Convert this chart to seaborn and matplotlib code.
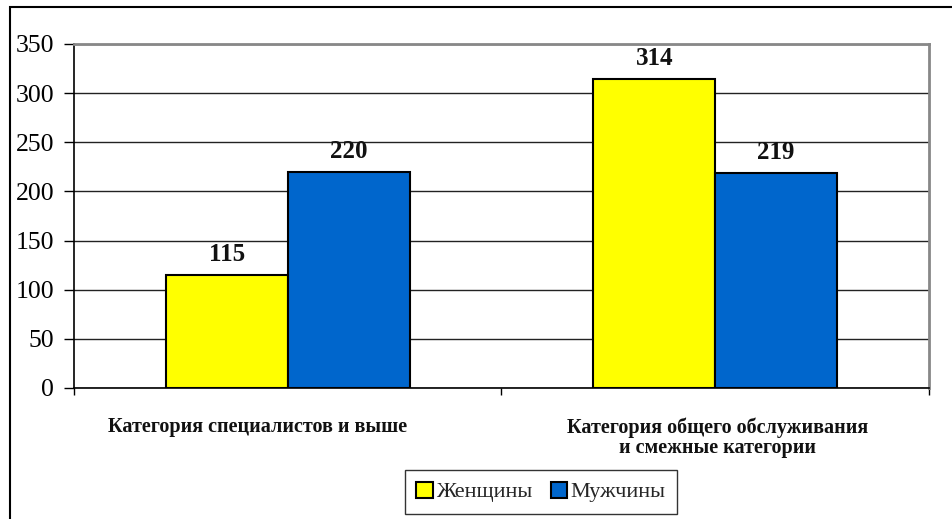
import matplotlib
matplotlib.use("Agg")
import matplotlib.pyplot as plt
import matplotlib.transforms as mtransforms
import seaborn as sns
import pandas as pd
from matplotlib.patches import Rectangle, Patch

categories = ["Категория специалистов и выше", "Категория общего обслуживания\nи смежные категории"]
series = ["Женщины", "Мужчины"]
women = [115, 314]
men = [220, 219]
colors = ["#FFFF00", "#0066CC"]
yticks = [0, 50, 100, 150, 200, 250, 300, 350]

df = pd.DataFrame({
    "cat": categories * 2,
    "sex": [series[0]] * 2 + [series[1]] * 2,
    "val": women + men,
})

sns.set_theme(style="white")
plt.rcParams["font.family"] = ["Liberation Serif", "DejaVu Serif"]

fig = plt.figure(figsize=(9.53, 5.19), dpi=100)
ax = fig.add_axes([74/953, 1-388/519, (929-74)/953, (388-44)/519])

sns.barplot(data=df, x="cat", y="val", hue="sex", palette=colors, ax=ax,
            width=0.57, edgecolor="black", linewidth=1.5, legend=False, saturation=1)

ax.set_ylim(0, 350)
ax.set_xlim(-0.5, 1.5)
ax.set_yticks(yticks)
ax.set_yticklabels([str(v) for v in yticks], fontsize=18.5)
ax.yaxis.grid(True, color="#222222", linewidth=1)
ax.set_axisbelow(True)
ax.set_xlabel("")
ax.set_ylabel("")
ax.tick_params(axis="y", left=True, length=7.2, width=1, color="black", pad=7, labelcolor="black")
ax.tick_params(axis="x", bottom=False, pad=15)
shifts = [-30, 2]
for lab, dx in zip(ax.get_xticklabels(), shifts):
    lab.set_fontweight("bold")
    lab.set_fontsize(14.5)
    lab.set_color("#111111")
    lab.set_linespacing(1.0)
    lab.set_transform(lab.get_transform() + mtransforms.ScaledTranslation(dx / 100, 0, fig.dpi_scale_trans))
ax.set_xticks([-0.5, 0.5, 1.5], minor=True)
ax.tick_params(axis="x", which="minor", bottom=True, length=5, width=1, color="black", direction="out")

for s in ["left", "bottom"]:
    ax.spines[s].set_color("black")
    ax.spines[s].set_linewidth(1.2)
for s in ["top", "right"]:
    ax.spines[s].set_color("#888888")
    ax.spines[s].set_linewidth(2)

for cont in ax.containers:
    ax.bar_label(cont, fmt="%d", padding=6.5, fontsize=18, fontweight="bold", color="#111111")

handles = [Patch(facecolor=c, edgecolor="black", linewidth=1.5) for c in colors]
leg = fig.legend(handles, series, loc="center", bbox_to_anchor=(541/953, 1-492/519),
                 ncol=2, frameon=True, fontsize=16, handlelength=0.75, handleheight=0.75,
                 handletextpad=0.15, columnspacing=0.8, borderpad=0.5, fancybox=False)
leg.get_frame().set_edgecolor("black")
leg.get_frame().set_linewidth(1)

fig.patches.append(Rectangle((10/953, -0.1), 1.2, 1 - 7/519 + 0.1, transform=fig.transFigure,
                             fill=False, edgecolor="black", linewidth=1.5))

fig.savefig("out.png", dpi=100)
